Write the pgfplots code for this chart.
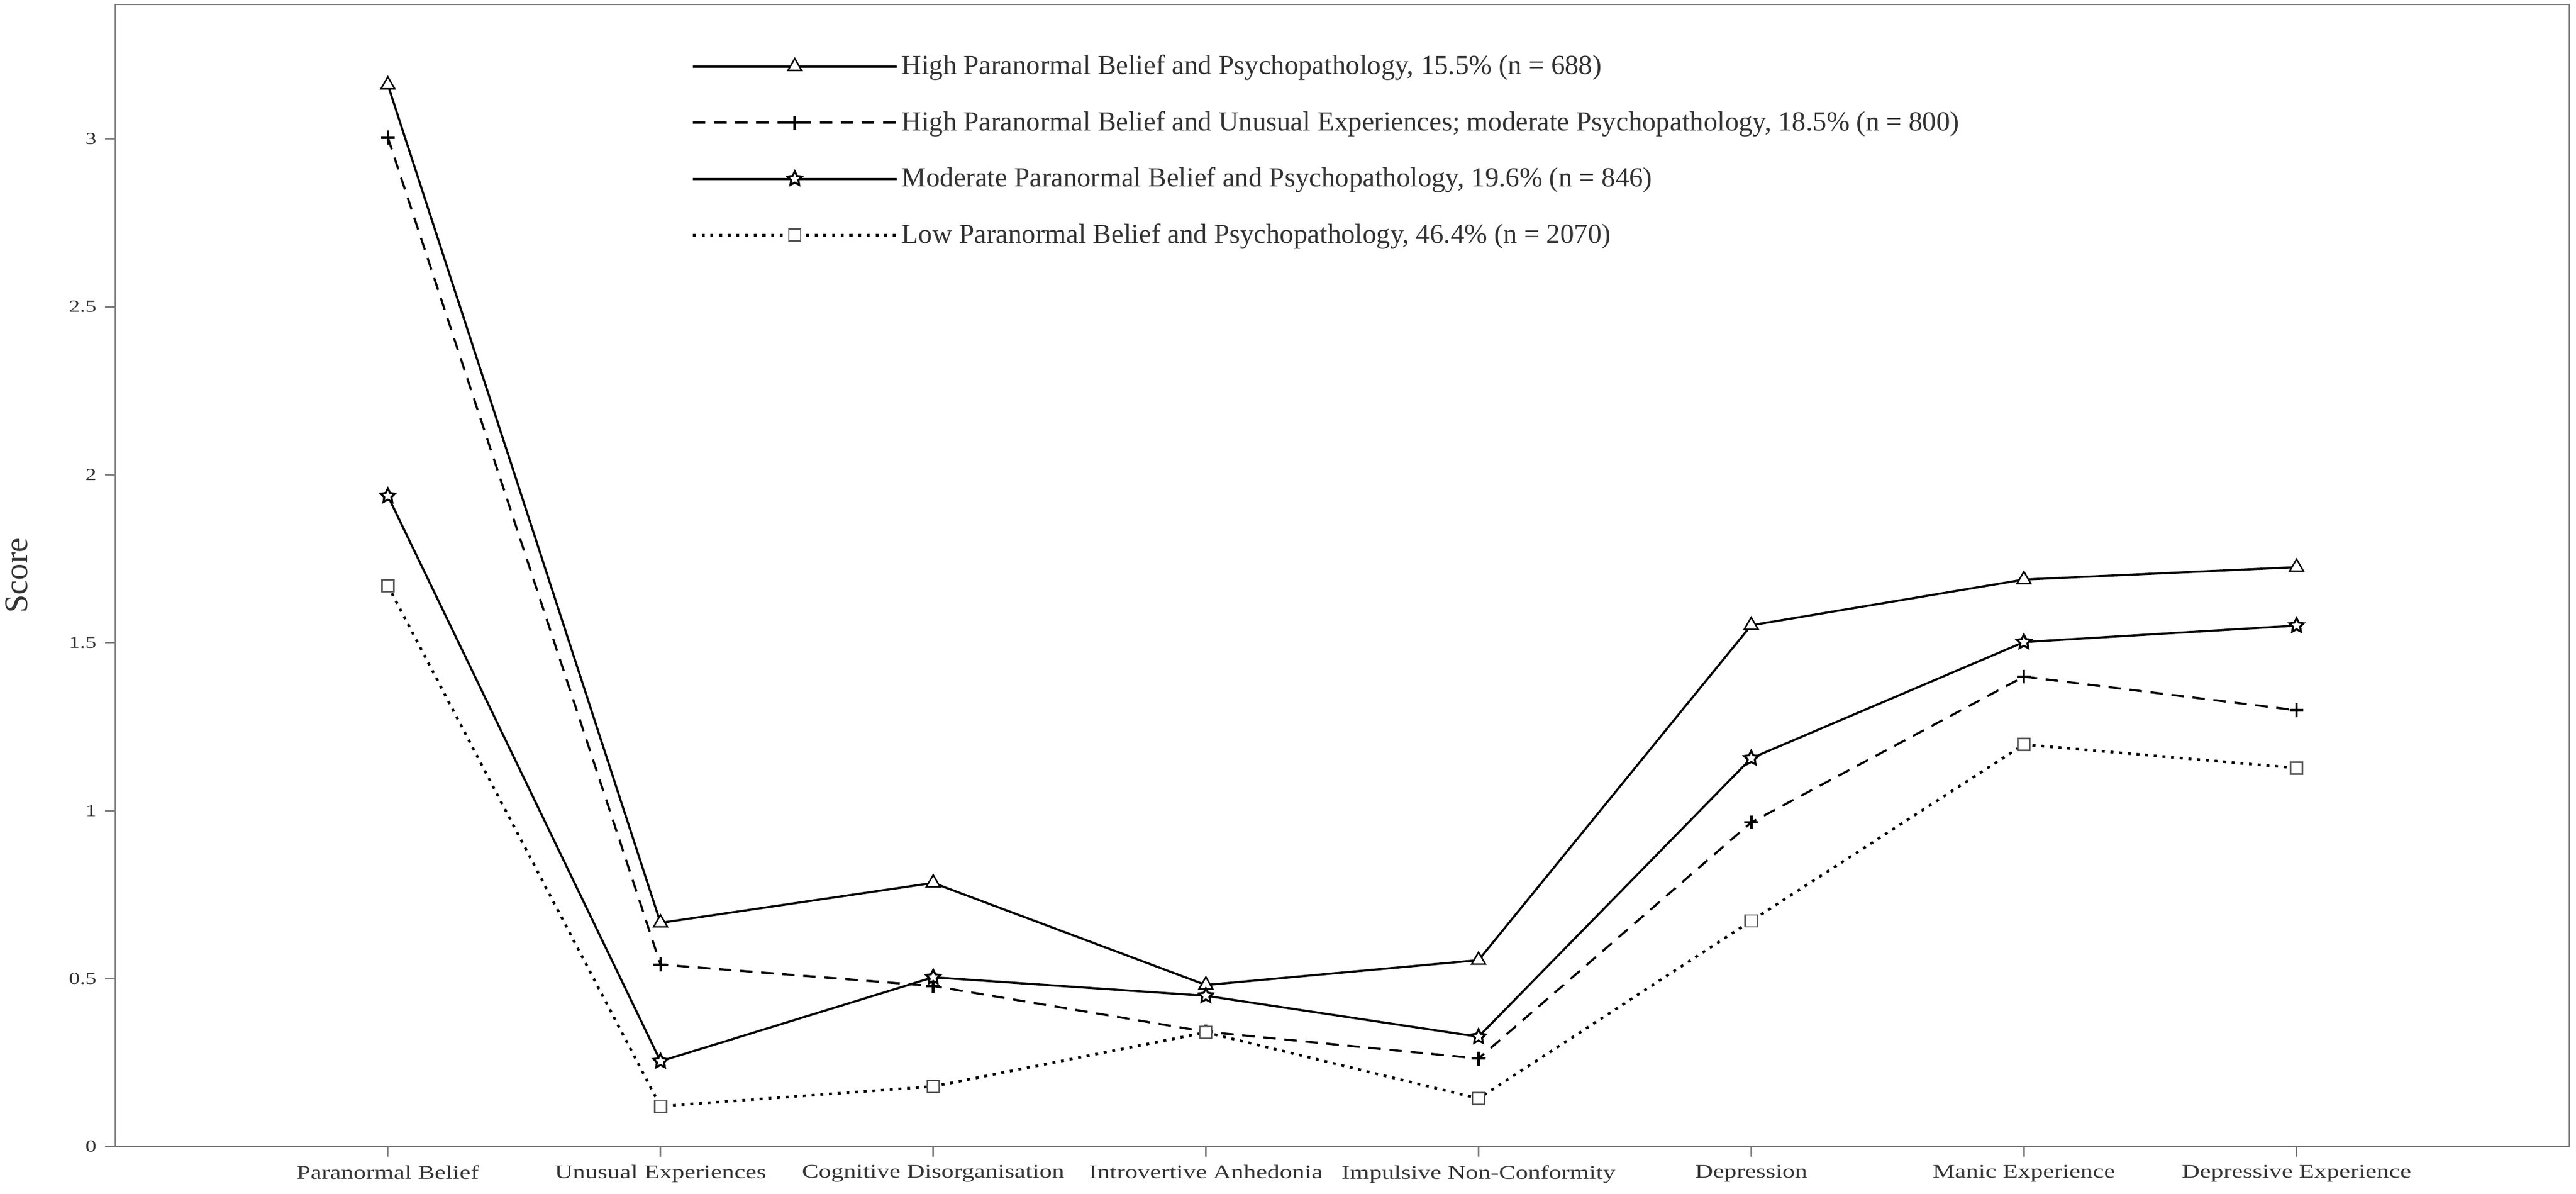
\documentclass[border=0pt]{standalone}
\usepackage{fontspec}
\setmainfont{Liberation Serif}
\newfontfamily\tickfont{Liberation Serif}[FakeStretch=1.3]
\usepackage{pgfplots}
\pgfplotsset{compat=1.18}
\usetikzlibrary{plotmarks}
\definecolor{axisgray}{HTML}{808080}
\definecolor{textgray}{HTML}{333333}
\pgfdeclareplotmark{ostar}{%
  \pgfpathmoveto{\pgfpointpolar{90}{\pgfplotmarksize}}%
  \pgfpathlineto{\pgfpointpolar{126}{0.5\pgfplotmarksize}}%
  \pgfpathlineto{\pgfpointpolar{162}{\pgfplotmarksize}}%
  \pgfpathlineto{\pgfpointpolar{198}{0.5\pgfplotmarksize}}%
  \pgfpathlineto{\pgfpointpolar{234}{\pgfplotmarksize}}%
  \pgfpathlineto{\pgfpointpolar{270}{0.5\pgfplotmarksize}}%
  \pgfpathlineto{\pgfpointpolar{306}{\pgfplotmarksize}}%
  \pgfpathlineto{\pgfpointpolar{342}{0.5\pgfplotmarksize}}%
  \pgfpathlineto{\pgfpointpolar{18}{\pgfplotmarksize}}%
  \pgfpathlineto{\pgfpointpolar{54}{0.5\pgfplotmarksize}}%
  \pgfpathclose
  \pgfusepathqfillstroke
}
\begin{document}
\begin{tikzpicture}
\begin{axis}[
  at={(0,0)}, anchor=south west,
  scale only axis,
  width=987.73pt, height=459.55pt,
  xmin=-1, xmax=8, ymin=0, ymax=3.4,
  xtick={0,1,2,3,4,5,6,7},
  xticklabels={Paranormal Belief, Unusual Experiences, Cognitive Disorganisation, Introvertive Anhedonia, Impulsive Non-Conformity, Depression, Manic Experience, Depressive Experience},
  ytick={0,0.5,1,1.5,2,2.5,3},
  yticklabels={0,0.5,1,1.5,2,2.5,3},
  xtick pos=bottom, ytick pos=left,
  tick align=outside,
  major tick length=4pt,
  axis line style={axisgray, line width=0.6pt},
  every tick/.style={axisgray, line width=0.6pt},
  /pgf/number format/assume math mode=true,
  xticklabel style={font=\tickfont\fontsize{7.73}{9}\selectfont, text=textgray},
  yticklabel style={font=\tickfont\fontsize{6.8}{8}\selectfont, text=textgray},
  ylabel={Score},
  ylabel style={font=\fontsize{13.3}{15}\selectfont, text=textgray, at={(axis description cs:0,0.5)}, anchor=center, rotate=0, yshift=39.6pt},
  legend cell align=left,
  legend style={draw=none, fill=none, at={(axis description cs:0.2347,0.9585)}, anchor=north west,
    font=\fontsize{11.1}{13}\selectfont, text=textgray, row sep=11.3pt, inner sep=0pt,
    nodes={inner xsep=1.5pt, inner ysep=1pt}},
  legend image code/.code={%
    \draw[mark repeat=2,mark phase=2] plot coordinates {(0pt,0pt) (41pt,0pt) (82pt,0pt)};},
]
\addplot[black, line width=0.85pt, mark=triangle*, mark size=3.2pt, mark options={solid, fill=white, line width=0.6pt}]
  coordinates {(0,3.161) (1,0.666) (2,0.785) (3,0.481) (4,0.555) (5,1.552) (6,1.688) (7,1.725)};
\addlegendentry{High Paranormal Belief and Psychopathology, 15.5\% (n = 688)}
\addplot[black, line width=0.85pt, dash pattern=on 5pt off 3.5pt, mark=+, mark size=2.8pt, mark options={solid, line width=1pt}]
  coordinates {(0,3.004) (1,0.542) (2,0.478) (3,0.342) (4,0.262) (5,0.965) (6,1.399) (7,1.299)};
\addlegendentry{High Paranormal Belief and Unusual Experiences; moderate Psychopathology, 18.5\% (n = 800)}
\addplot[black, line width=0.85pt, mark=ostar, mark size=3pt, mark options={solid, fill=white, line width=0.8pt}]
  coordinates {(0,1.937) (1,0.254) (2,0.504) (3,0.449) (4,0.327) (5,1.156) (6,1.502) (7,1.551)};
\addlegendentry{Moderate Paranormal Belief and Psychopathology, 19.6\% (n = 846)}
\addplot[black, line width=1.05pt, dash pattern=on 1.2pt off 2.3pt, mark=square*, mark size=2.4pt, mark options={solid, fill=white, draw=black!65, line width=0.6pt}]
  coordinates {(0,1.670) (1,0.120) (2,0.179) (3,0.340) (4,0.143) (5,0.672) (6,1.197) (7,1.127)};
\addlegendentry{Low Paranormal Belief and Psychopathology, 46.4\% (n = 2070)}
\end{axis}
\pgfresetboundingbox
\path[use as bounding box] (-46.36pt,-18.86pt) rectangle (990.46pt,461.37pt);
\end{tikzpicture}
\end{document}
